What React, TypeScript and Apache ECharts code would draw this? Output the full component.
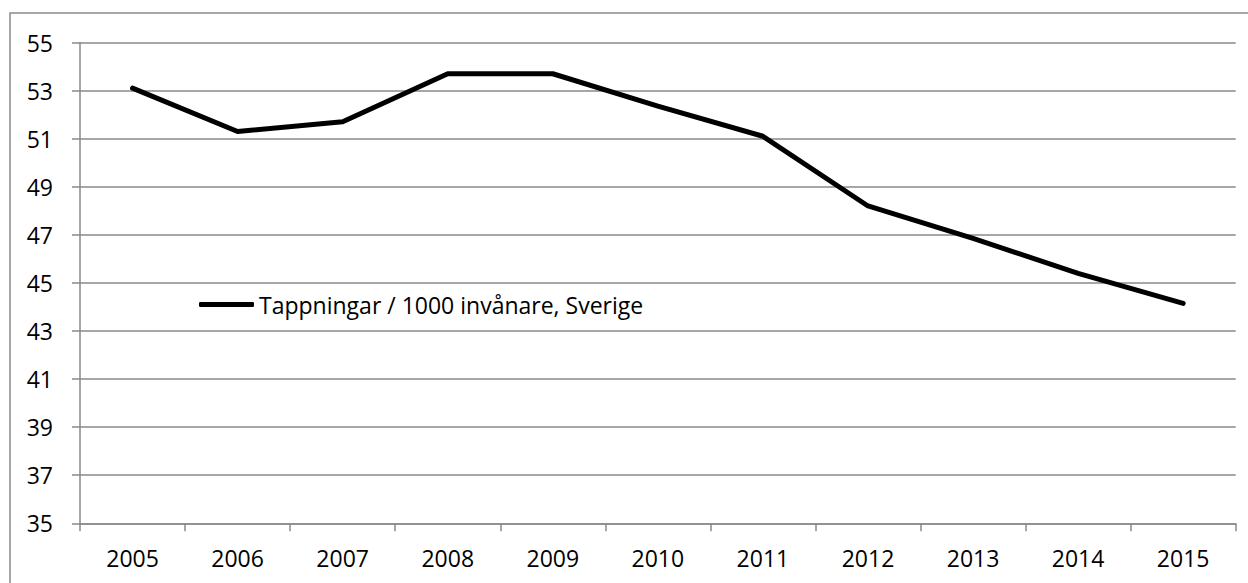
import React, { useEffect, useRef } from "react";
import * as echarts from "echarts";

const years = ["2005", "2006", "2007", "2008", "2009", "2010", "2011", "2012", "2013", "2014", "2015"];
const tappningar = [53.1, 51.3, 51.7, 53.7, 53.7, 52.35, 51.1, 48.2, 46.85, 45.4, 44.15];
const seriesName = "Tappningar / 1000 invånare, Sverige";
const yMin = 35;
const yMax = 55;
const yStep = 2;

const FONT = "'Open Sans', 'Noto Sans', sans-serif";
const GRAY = "#8a8a8a";

export default function App() {
  const ref = useRef<HTMLDivElement>(null);
  useEffect(() => {
    document.body.style.margin = "0";
    const chart = echarts.init(ref.current!, undefined, { renderer: "svg" });
    chart.setOption({
      animation: false,
      backgroundColor: "#ffffff",
      textStyle: { fontFamily: FONT },
      graphic: [
        {
          type: "rect",
          shape: { x: 10, y: 13, width: 1400, height: 800 },
          style: { fill: "none", stroke: GRAY, lineWidth: 1.5 },
          silent: true,
        },
      ],
      grid: { left: 80, right: 12.3, top: 42.5, bottom: 59.7, containLabel: false },
      legend: {
        show: true,
        data: [{ name: seriesName, icon: "roundRect" }],
        left: 199,
        top: 293,
        padding: 0,
        itemWidth: 55,
        itemHeight: 5,
        itemGap: 10,
        textStyle: { fontFamily: FONT, fontSize: 23, color: "#000", padding: [0, 0, 0, 0] },
        itemStyle: { color: "#000" },
      },
      xAxis: {
        type: "category",
        data: years,
        boundaryGap: true,
        axisLine: { show: true, lineStyle: { color: GRAY, width: 1.5 } },
        axisTick: { show: true, length: 8, alignWithLabel: false, lineStyle: { color: GRAY, width: 1.5 } },
        axisLabel: { fontFamily: FONT, fontSize: 23, color: "#000", margin: 23 },
        splitLine: { show: false },
      },
      yAxis: {
        type: "value",
        min: yMin,
        max: yMax,
        interval: yStep,
        axisLine: { show: true, lineStyle: { color: GRAY, width: 1.5 } },
        axisTick: { show: true, length: 8, lineStyle: { color: GRAY, width: 1.5 } },
        axisLabel: { fontFamily: FONT, fontSize: 23, color: "#000", margin: 27 },
        splitLine: { show: true, lineStyle: { color: GRAY, width: 1.5 } },
      },
      series: [
        {
          name: seriesName,
          type: "line",
          data: tappningar,
          symbol: "none",
          showSymbol: false,
          lineStyle: { color: "#000", width: 5, cap: "round", join: "round" },
          itemStyle: { color: "#000" },
        },
      ],
    });
    return () => chart.dispose();
  }, []);
  return <div ref={ref} style={{ position: "absolute", left: 0, top: 0, width: 1248, height: 583 }} />;
}
